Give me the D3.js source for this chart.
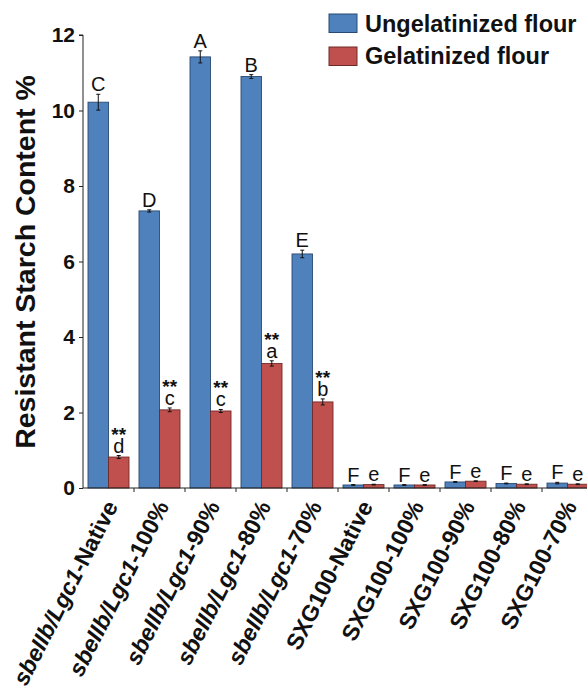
<!DOCTYPE html>
<html>
<head>
<meta charset="utf-8">
<script src="https://cdn.jsdelivr.net/npm/d3@7"></script>
<style>
  html, body { margin: 0; padding: 0; background: #fff; }
  svg { display: block; font-family: "Liberation Sans", Arial, sans-serif; }
</style>
</head>
<body>
<svg id="chart" width="587" height="690"></svg>
<script>
// ---- data ----
const genotypes = ["sbeIIb/Lgc1", "sbeIIb/Lgc1", "sbeIIb/Lgc1", "sbeIIb/Lgc1", "sbeIIb/Lgc1",
                   "SXG100", "SXG100", "SXG100", "SXG100", "SXG100"];
const treatments = ["-Native", "-100%", "-90%", "-80%", "-70%",
                    "-Native", "-100%", "-90%", "-80%", "-70%"];
const italicGenotype = [true, true, true, true, true, false, false, false, false, false];
const categories = genotypes.map((g, i) => g + treatments[i]);
const ungelatinized = [10.22, 7.34, 11.42, 10.90, 6.20, 0.08, 0.08, 0.16, 0.12, 0.13];
const ungelatinizedErr = [0.21, 0.03, 0.16, 0.05, 0.10, 0.01, 0.01, 0.01, 0.01, 0.02];
const gelatinized = [0.82, 2.07, 2.04, 3.30, 2.28, 0.09, 0.08, 0.18, 0.10, 0.10];
const gelatinizedErr = [0.04, 0.05, 0.04, 0.07, 0.08, 0.01, 0.01, 0.01, 0.01, 0.01];
const ungelLetters = ["C", "D", "A", "B", "E", "F", "F", "F", "F", "F"];
const gelLetters = ["d", "c", "c", "a", "b", "e", "e", "e", "e", "e"];
const gelSignif = ["**", "**", "**", "**", "**", "", "", "", "", ""];
const yTicks = [0, 2, 4, 6, 8, 10, 12];
const seriesNames = ["Ungelatinized flour", "Gelatinized flour"];
const seriesColors = ["#4f81bd", "#c0504d"];
const seriesStroke = ["#2b4a72", "#6e2a28"];

// ---- layout ----
const svg = d3.select("#chart");
const x0 = 83, x1 = 593, yBase = 488, yTop = 35;

const x = d3.scaleBand().domain(categories).range([x0, x1]).padding(0);
const xs = d3.scaleBand().domain([0, 1]).range([5, x.bandwidth() - 5]).padding(0);
const y = d3.scaleLinear().domain([0, 12]).range([yBase, yTop]);

const series = [
  { vals: ungelatinized, errs: ungelatinizedErr, letters: ungelLetters, sig: null },
  { vals: gelatinized, errs: gelatinizedErr, letters: gelLetters, sig: gelSignif }
];

// bars
series.forEach((s, si) => {
  const g = svg.append("g");
  categories.forEach((c, i) => {
    const bx = x(c) + xs(si);
    const bw = xs.bandwidth();
    g.append("rect")
      .attr("x", bx).attr("y", y(s.vals[i]))
      .attr("width", bw).attr("height", yBase - y(s.vals[i]))
      .attr("fill", seriesColors[si])
      .attr("stroke", seriesStroke[si]).attr("stroke-width", 0.9);
    // error bar
    const cx = bx + bw / 2;
    const yt = y(s.vals[i] + s.errs[i]), yb = y(Math.max(0, s.vals[i] - s.errs[i]));
    g.append("line").attr("x1", cx).attr("x2", cx).attr("y1", yt).attr("y2", yb)
      .attr("stroke", "#111").attr("stroke-width", 1);
    g.append("line").attr("x1", cx - 2).attr("x2", cx + 2).attr("y1", yt).attr("y2", yt)
      .attr("stroke", "#111").attr("stroke-width", 1);
    g.append("line").attr("x1", cx - 2).attr("x2", cx + 2).attr("y1", yb).attr("y2", yb)
      .attr("stroke", "#111").attr("stroke-width", 1);
    // letters (with significance stars stacked above, in one text element)
    const ly = yt - 3;
    const t = g.append("text").attr("text-anchor", "middle").attr("fill", "#111");
    if (s.sig && s.sig[i]) {
      t.append("tspan").attr("x", cx).attr("y", ly - 12)
        .attr("font-size", 19).attr("font-weight", "bold").text(s.sig[i]);
    }
    t.append("tspan").attr("x", cx).attr("y", ly)
      .attr("font-size", 20).text(s.letters[i]);
  });
});

// y axis
const yAxis = d3.axisLeft(y).tickValues(yTicks).tickSize(4).tickPadding(4).tickFormat(d3.format("d"));
const gy = svg.append("g").attr("transform", `translate(${x0},0)`).call(yAxis);
gy.select(".domain").attr("stroke", "#222").attr("d", `M-4,${yTop}H0V${yBase}`);
gy.selectAll(".tick line").attr("stroke", "#222");
gy.selectAll(".tick text").attr("font-size", 21).attr("font-weight", "bold")
  .attr("font-family", "Liberation Sans, Arial, sans-serif").attr("fill", "#111");

// x axis
const gx = svg.append("g").attr("transform", `translate(0,${yBase})`);
gx.append("line").attr("x1", x0).attr("x2", 587).attr("y1", 0).attr("y2", 0).attr("stroke", "#222");
categories.forEach((c, i) => {
  gx.append("line").attr("x1", x(c) + x.bandwidth()).attr("x2", x(c) + x.bandwidth())
    .attr("y1", 0).attr("y2", 4).attr("stroke", "#222");
});
categories.forEach((c, i) => {
  const cx = x(c) + x.bandwidth() / 2;
  const t = gx.append("text")
    .attr("transform", `translate(${cx + 10},${18}) rotate(-63)`)
    .attr("text-anchor", "end").attr("font-size", 23).attr("font-weight", "bold").attr("fill", "#111");
  t.append("tspan").attr("font-style", italicGenotype[i] ? "italic" : "normal").text(genotypes[i]);
  t.append("tspan").text(treatments[i]);
});

// y title
svg.append("text")
  .attr("transform", "translate(35,262) rotate(-90)")
  .attr("text-anchor", "middle").attr("font-size", 28.5).attr("font-weight", "bold").attr("fill", "#111")
  .text("Resistant Starch Content %");

// legend
const lg = svg.append("g");
seriesNames.forEach((n, i) => {
  lg.append("rect").attr("x", 329).attr("y", 14 + i * 33).attr("width", 28).attr("height", 18.5)
    .attr("fill", seriesColors[i]).attr("stroke", seriesStroke[i]).attr("stroke-width", 1);
  lg.append("text").attr("x", 365).attr("y", 32 + i * 31.5)
    .attr("font-size", 23.5).attr("font-weight", "bold").attr("fill", "#111").text(n);
});
</script>
</body>
</html>
